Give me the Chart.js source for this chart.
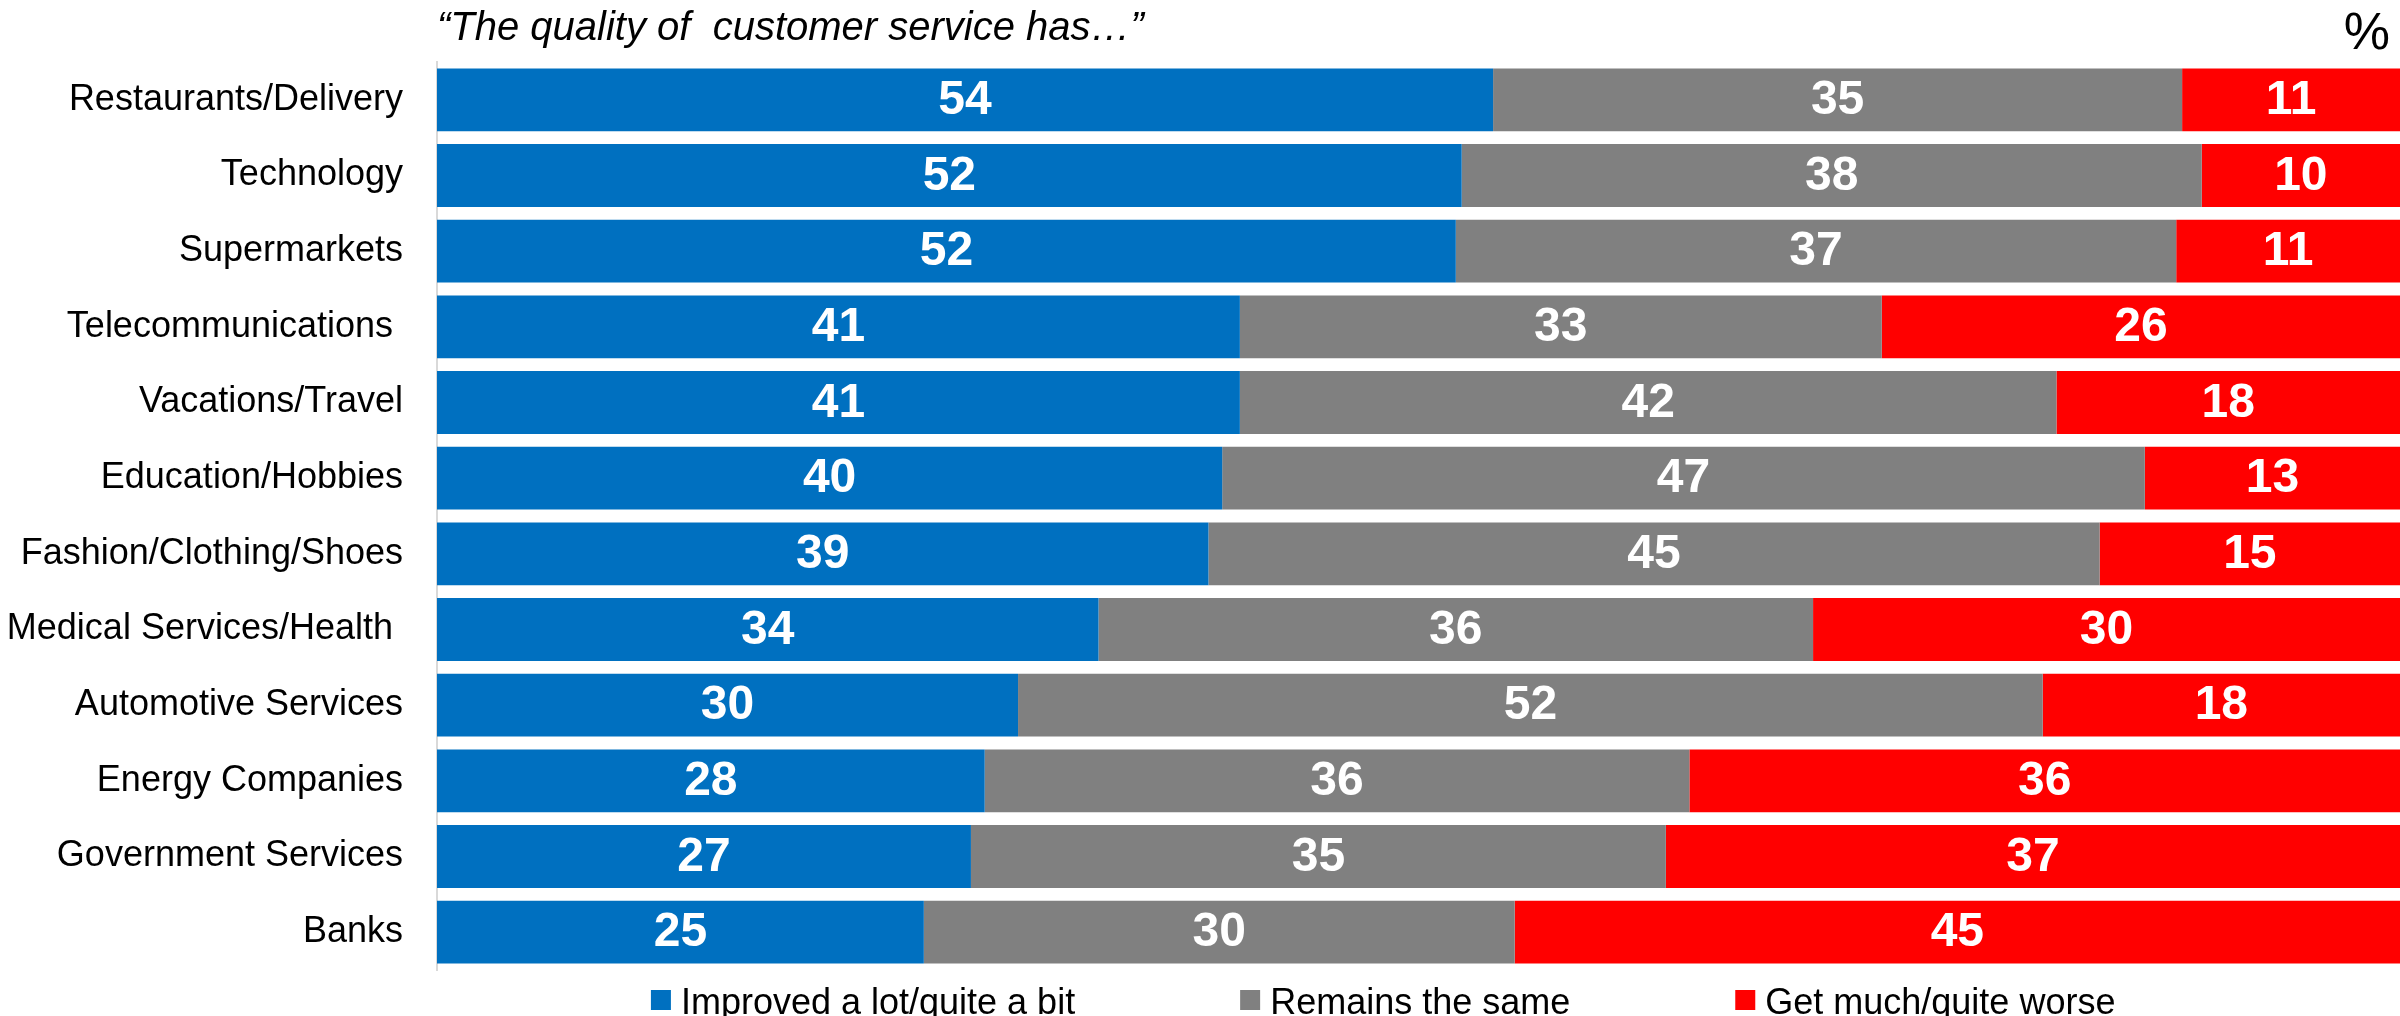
<!DOCTYPE html>
<html lang="en">
<head>
<meta charset="utf-8">
<title>Customer service quality</title>
<script src="https://cdn.jsdelivr.net/npm/chart.js@4/dist/chart.umd.min.js"></script>
<style>
  html, body { margin: 0; padding: 0; background: #fff; }
  .chart-wrap { position: relative; width: 2400px; height: 1016px; }
</style>
</head>
<body>
<div class="chart-wrap">
  <canvas id="service-chart"></canvas>
</div>
<script>
// Service quality survey - stacked horizontal bars

const categories = [
  "Restaurants/Delivery",
  "Technology",
  "Supermarkets",
  "Telecommunications ",
  "Vacations/Travel",
  "Education/Hobbies",
  "Fashion/Clothing/Shoes",
  "Medical Services/Health ",
  "Automotive Services",
  "Energy Companies",
  "Government Services",
  "Banks",
]

// shares (labels show them rounded)
const improved = [53.8, 52.2, 51.9, 40.9, 40.9, 40.0, 39.3, 33.7, 29.6, 27.9, 27.2, 24.8]
const remains = [35.1, 37.7, 36.7, 32.7, 41.6, 47.0, 45.4, 36.4, 52.2, 35.9, 35.4, 30.1]
const worse = [11.1, 10.1, 11.4, 26.4, 17.5, 13.0, 15.3, 29.9, 18.2, 36.2, 37.4, 45.1]

const seriesNames = ["Improved a lot/quite a bit", "Remains the same", "Get much/quite worse"]
const seriesColors = ["#0070C0", "#808080", "#FF0000"]

const titleText = "\u201CThe quality of  customer service has\u2026\u201D"
const unitText = "%"

const fontFamily = "'Liberation Sans', Arial, sans-serif"

// White value labels centred in each segment
const valueLabels = {
  id: "valueLabels",
  afterDatasetsDraw(chart) {
    const ctx = chart.ctx
    ctx.save()
    ctx.font = `bold 48px ${fontFamily}`
    ctx.fillStyle = "#ffffff"
    ctx.textAlign = "center"
    ctx.textBaseline = "middle"
    chart.data.datasets.forEach((ds, i) => {
      const meta = chart.getDatasetMeta(i)
      meta.data.forEach((bar, j) => {
        const x = (bar.x + bar.base) / 2
        ctx.fillText(String(Math.round(ds.data[j])), x, bar.y + 1)
      })
    })
    ctx.restore()
  },
}

// Unit mark and the legend row under the bars
const extras = {
  id: "extras",
  afterDraw(chart) {
    const ctx = chart.ctx
    const area = chart.chartArea
    ctx.save()

    ctx.font = `52px ${fontFamily}`
    ctx.fillStyle = "#000000"
    ctx.textAlign = "right"
    ctx.textBaseline = "alphabetic"
    ctx.fillText(unitText, area.right - 10, 49)

    // legend
    ctx.font = `36px ${fontFamily}`
    const box = 20
    const gapText = 10
    const gapItem = 165
    const items = chart.data.datasets.map((ds) => ({
      text: ds.label,
      color: ds.backgroundColor,
      width: box + gapText + ctx.measureText(ds.label).width,
    }))
    const total = items.reduce((s, it) => s + it.width, 0) + gapItem * (items.length - 1)
    const centerX = area.left + area.width * 0.482
    let x = centerX - total / 2
    const baseY = 1014
    ctx.textAlign = "left"
    items.forEach((it) => {
      ctx.fillStyle = it.color
      ctx.fillRect(x, 990, box, box)
      ctx.fillStyle = "#000000"
      ctx.fillText(it.text, x + box + gapText, baseY)
      x += it.width + gapItem
    })
    ctx.restore()
  },
}

const ctx = document.getElementById("service-chart").getContext("2d")

new Chart(ctx, {
  type: "bar",
  data: {
    labels: categories,
    datasets: [
      { label: seriesNames[0], data: improved, backgroundColor: seriesColors[0] },
      { label: seriesNames[1], data: remains, backgroundColor: seriesColors[1] },
      { label: seriesNames[2], data: worse, backgroundColor: seriesColors[2] },
    ],
  },
  options: {
    indexAxis: "y",
    responsive: true,
    maintainAspectRatio: false,
    animation: false,
    layout: {
      padding: { left: 0, right: 0, top: 0, bottom: 46 },
    },
    datasets: {
      bar: {
        categoryPercentage: 1,
        barPercentage: 0.83,
        borderWidth: 0,
      },
    },
    plugins: {
      legend: { display: false },
      tooltip: { enabled: false },
      title: {
        display: true,
        text: titleText,
        align: "start",
        fullSize: false,
        color: "#000000",
        font: { family: fontFamily, size: 40, style: "italic", weight: "normal", lineHeight: 1.2 },
        padding: { top: 5, bottom: 9 },
      },
    },
    scales: {
      x: {
        stacked: true,
        display: false,
        min: 0,
        max: 100,
      },
      y: {
        stacked: true,
        grid: { display: false, drawTicks: false },
        border: { display: true, color: "#d9d9d9", width: 2 },
        ticks: {
          color: "#000000",
          padding: 34,
          font: { family: fontFamily, size: 36 },
        },
        afterFit(scale) {
          // fixed label column; labels stay inside the bar rows
          scale.width = 437
          scale.paddingTop = 0
          scale.paddingBottom = 0
        },
      },
    },
  },
  plugins: [valueLabels, extras],
})
</script>
</body>
</html>
